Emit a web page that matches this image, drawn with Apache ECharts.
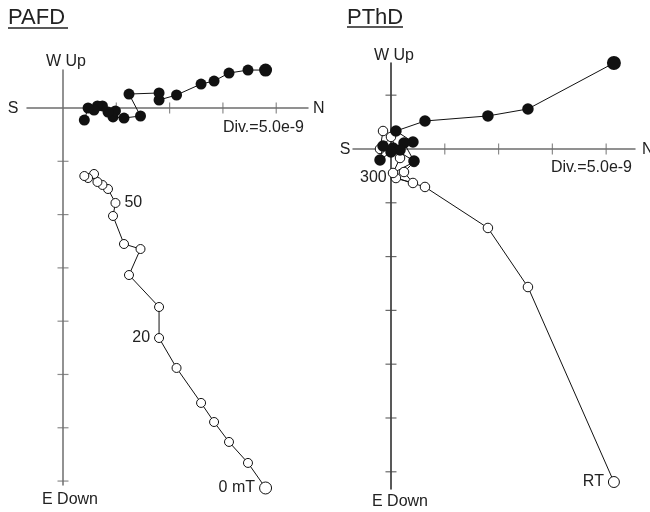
<!DOCTYPE html>
<html><head><meta charset="utf-8">
<script src="https://cdn.jsdelivr.net/npm/echarts@6/dist/echarts.min.js"></script>
<style>html,body{margin:0;padding:0;background:#fff}#c{width:650px;height:512px}</style>
</head><body><div id="c"></div>
<script>
// Units: 1e-9 (one division = 5.0e-9)
// PAFD (AF demagnetisation), shared N component, W (up) for filled, vertical (up) for open
const pafdN    = [19.0, 17.35, 15.57, 14.17, 12.95, 10.65, 9.01, 9.01, 6.19, 7.27, 5.72, 4.69, 4.92, 4.22, 3.70, 3.23, 2.91, 2.35, 2.00];
const pafdW    = [3.56, 3.56, 3.28, 2.53, 2.25, 1.22, 0.75, 1.41, 1.31, -0.75, -0.94, -0.84, -0.28, -0.38, 0.19, 0.19, -0.19, 0.00, -1.13];
const pafdUp   = [-35.65, -33.30, -31.33, -29.46, -27.67, -24.39, -21.58, -18.67, -15.67, -13.23, -12.76, -10.13, -8.91, -7.60, -7.22, -6.94, -6.19, -6.57, -6.38];
const pafdLabelIdx  = [0, 6, 12];
const pafdLabelText = ['0 mT', '20', '50'];
const pafdLabelPos  = ['left', 'left', 'right'];

// PThD (thermal demagnetisation)
const pthdN    = [20.72, 12.73, 9.01, 3.16, 0.46, 2.04, 1.21, 2.14, 0.19, 0.84, 0.00, -1.02, -0.74];
const pthdW    = [7.99, 3.72, 3.07, 2.60, 1.67, 0.65, 0.56, -1.12, 0.09, -0.09, -0.28, -1.02, 0.28];
const pthdUp   = [-30.95, -12.83, -7.34, -3.53, -2.70, -3.16, -2.14, -1.21, -2.23, -0.84, 1.12, 0.00, 1.67];
const pthdLabelIdx  = [0, 4];
const pthdLabelText = ['RT', '300'];
const pthdLabelPos  = ['left', 'left'];

// axis tick values
const pafdXTicks = [5, 10, 15, 20];
const pafdYTicks = [-5, -10, -15, -20, -25, -30, -35];
const pthdXTicks = [5, 10, 15, 20];
const pthdYTicks = [5, -5, -10, -15, -20, -25, -30];

const FONT = '"Liberation Sans", Arial, Helvetica, sans-serif';
const TXT = '#222';
const AXC = '#6e6e6e';

function mkData(xs, ys, bigSize, size, labelIdx, labelText, labelPos) {
  return xs.map((x, i) => {
    const item = { value: [x, ys[i]], symbolSize: i === 0 ? bigSize : size };
    const k = labelIdx.indexOf(i);
    if (k >= 0) {
      item.label = { show: true, position: labelPos[k], distance: 4, formatter: labelText[k],
        color: TXT, fontSize: 16, fontFamily: FONT };
    }
    return item;
  });
}
function tickSeries(xi, yi, vals, isX, color) {
  return {
    type: 'scatter', xAxisIndex: xi, yAxisIndex: yi, silent: true, z: 1,
    symbol: 'rect', symbolSize: isX ? [1.2, 11] : [11, 1.2],
    itemStyle: { color: color },
    data: vals.map(v => isX ? [v, 0] : [0, v])
  };
}
function lineSeries(xi, yi, data, filled) {
  return {
    type: 'line', xAxisIndex: xi, yAxisIndex: yi, clip: false, z: filled ? 4 : 3,
    symbol: 'circle', showAllSymbol: true,
    lineStyle: { color: '#111', width: 1 },
    itemStyle: filled ? { color: '#111', borderColor: '#111', borderWidth: 0 }
                      : { color: '#fff', borderColor: '#111', borderWidth: 1 },
    emphasis: { disabled: true },
    data: data
  };
}
function valAxis(gi, min, max, color) {
  return {
    type: 'value', gridIndex: gi, min: min, max: max,
    axisLine: { show: true, onZero: true, lineStyle: { color: color, width: 1.5 } },
    axisTick: { show: false }, axisLabel: { show: false }, splitLine: { show: false }
  };
}

const chart = echarts.init(document.getElementById('c'), null, { renderer: 'canvas' });
chart.setOption({
  animation: false,
  backgroundColor: '#fff',
  grid: [
    { left: 27, top: 70, width: 281, height: 415 },
    { left: 353, top: 63, width: 282, height: 426 }
  ],
  xAxis: [
    valAxis(0, -3.377, 22.98, AXC),
    valAxis(1, -3.53, 22.68, AXC)
  ],
  yAxis: [
    valAxis(0, -35.37, 3.565, AXC),
    valAxis(1, -31.6, 7.99, '#222')
  ],
  series: [
    tickSeries(0, 0, pafdXTicks, true, AXC),
    tickSeries(0, 0, pafdYTicks, false, AXC),
    tickSeries(1, 1, pthdXTicks, true, AXC),
    tickSeries(1, 1, pthdYTicks, false, '#444'),
    lineSeries(0, 0, mkData(pafdN, pafdUp, 12, 9, pafdLabelIdx, pafdLabelText, pafdLabelPos), false),
    lineSeries(0, 0, mkData(pafdN, pafdW, 13, 11, [], [], []), true),
    lineSeries(1, 1, mkData(pthdN, pthdUp, 11, 9.5, pthdLabelIdx, pthdLabelText, pthdLabelPos), false),
    lineSeries(1, 1, mkData(pthdN, pthdW, 14, 11.5, [], [], []), true)
  ],
  graphic: [
    { type: 'text', style: { text: 'PAFD', x: 8, y: 18, font: '22px ' + FONT, fill: TXT, align: 'left', verticalAlign: 'middle' } },
    { type: 'line', shape: { x1: 8, y1: 28, x2: 68, y2: 28 }, style: { stroke: TXT, lineWidth: 1.5 } },
    { type: 'text', style: { text: 'PThD', x: 347, y: 18, font: '22px ' + FONT, fill: TXT, align: 'left', verticalAlign: 'middle' } },
    { type: 'line', shape: { x1: 347, y1: 27, x2: 403, y2: 27 }, style: { stroke: TXT, lineWidth: 1.5 } },

    { type: 'text', style: { text: 'W Up', x: 66, y: 62, font: '16px ' + FONT, fill: TXT, align: 'center', verticalAlign: 'middle' } },
    { type: 'text', style: { text: 'S', x: 13, y: 109, font: '16px ' + FONT, fill: TXT, align: 'center', verticalAlign: 'middle' } },
    { type: 'text', style: { text: 'N', x: 313, y: 109, font: '16px ' + FONT, fill: TXT, align: 'left', verticalAlign: 'middle' } },
    { type: 'text', style: { text: 'Div.=5.0e-9', x: 304, y: 128, font: '16px ' + FONT, fill: TXT, align: 'right', verticalAlign: 'middle' } },
    { type: 'text', style: { text: 'E Down', x: 70, y: 500, font: '16px ' + FONT, fill: TXT, align: 'center', verticalAlign: 'middle' } },

    { type: 'text', style: { text: 'W Up', x: 394, y: 56, font: '16px ' + FONT, fill: TXT, align: 'center', verticalAlign: 'middle' } },
    { type: 'text', style: { text: 'S', x: 345, y: 150, font: '16px ' + FONT, fill: TXT, align: 'center', verticalAlign: 'middle' } },
    { type: 'text', style: { text: 'N', x: 642, y: 150, font: '16px ' + FONT, fill: TXT, align: 'left', verticalAlign: 'middle' } },
    { type: 'text', style: { text: 'Div.=5.0e-9', x: 632, y: 168, font: '16px ' + FONT, fill: TXT, align: 'right', verticalAlign: 'middle' } },
    { type: 'text', style: { text: 'E Down', x: 400, y: 502, font: '16px ' + FONT, fill: TXT, align: 'center', verticalAlign: 'middle' } }
  ]
});
</script>
</body></html>
